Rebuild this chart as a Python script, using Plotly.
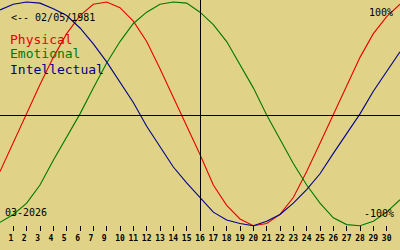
import plotly.graph_objects as go

# Day positions across the chart (0 .. 30)
positions = list(range(31))

# Tick positions and their labels (day 8 is skipped in the original chart)
tick_positions = list(range(1, 30))
tick_labels = ["1", "2", "3", "4", "5", "6", "7", "9", "10", "11", "12", "13", "14", "15",
               "16", "17", "18", "19", "20", "21", "22", "23", "24", "25", "26", "27",
               "28", "29", "30"]

# Biorhythm values in percent
physical = [-50, -24, 1, 27, 51, 72, 88, 98, 100, 95, 83, 65, 41, 16, -10, -35,
            -62, -80, -92, -98, -96, -88, -73, -50, -25, 0, 26, 51, 72, 87, 98]
emotional = [-95, -88, -78, -62, -40, -19, 1, 24, 46, 65, 81, 91, 98, 100, 99, 91,
             80, 65, 44, 24, 0, -22, -43, -62, -78, -91, -97, -98, -94, -86, -75]
intellectual = [93, 98, 100, 99, 94, 88, 77, 63, 47, 29, 11, -10, -28, -46, -60, -73,
                -86, -93, -96, -98, -94, -88, -78, -66, -52, -34, -16, 1, 21, 38, 56]

series_names = ["Physical", "Emotional", "Intellectual"]
series_colors = ["#E80000", "#007800", "#000090"]
today_position = 15

BG = "#E0D388"
W, H = 400, 250
FONT = "DejaVu Sans Mono"
PX_PER_UNIT = 1.13
PX_PER_DAY = W / 30

fig = go.Figure()
for name, vals, col in zip(series_names, [physical, emotional, intellectual], series_colors):
    fig.add_trace(go.Scatter(x=positions, y=vals, mode="lines", name=name,
                             line=dict(color=col, width=1.1), hoverinfo="skip"))

# horizontal zero line (offset half a pixel so it lands on one pixel row)
fig.add_shape(type="line", xref="paper", yref="y", x0=0, x1=1,
              y0=-0.5 / PX_PER_UNIT, y1=-0.5 / PX_PER_UNIT,
              line=dict(color="black", width=1))
# vertical "today" line
fig.add_shape(type="line", xref="x", yref="paper",
              x0=today_position + 0.5 / PX_PER_DAY, x1=today_position + 0.5 / PX_PER_DAY,
              y0=(H - 230) / H, y1=1, line=dict(color="black", width=1))

def ann(text, x, y, size, color="black", xanchor="left"):
    fig.add_annotation(text=text, xref="paper", yref="paper", x=x / W, y=1 - y / H,
                       xanchor=xanchor, yanchor="middle", showarrow=False,
                       font=dict(family=FONT, size=size, color=color), borderpad=0)

ann("&lt;-- 02/05/1981", 10, 18, 10)
for i, (name, col) in enumerate(zip(series_names, series_colors)):
    ann(name, 9, 39 + 15 * i, 13, col)
ann("03-2026", 4, 212, 10)
ann("100%", 394, 12, 10, xanchor="right")
ann("-100%", 395, 213, 10, xanchor="right")

ticktext = [t if len(t) > 1 else t + "\u00a0" for t in tick_labels]

fig.update_layout(
    width=W, height=H,
    margin=dict(l=0, r=0, t=0, b=0),
    paper_bgcolor=BG, plot_bgcolor=BG,
    showlegend=False,
    xaxis=dict(range=[0, 30], showgrid=False, zeroline=False, showline=False,
               anchor="free", position=(H - 225) / H,
               tickmode="array", tickvals=tick_positions, ticktext=ticktext,
               ticks="outside", ticklen=5, tickwidth=1, tickcolor="black",
               tickfont=dict(family=FONT, size=8, color="black", weight="bold")),
    yaxis=dict(range=[-(H - 115) / PX_PER_UNIT, 115 / PX_PER_UNIT], showgrid=False,
               zeroline=False, showline=False, showticklabels=False, ticks=""),
)

fig.write_html("out.html", config={"displayModeBar": False, "staticPlot": True})
